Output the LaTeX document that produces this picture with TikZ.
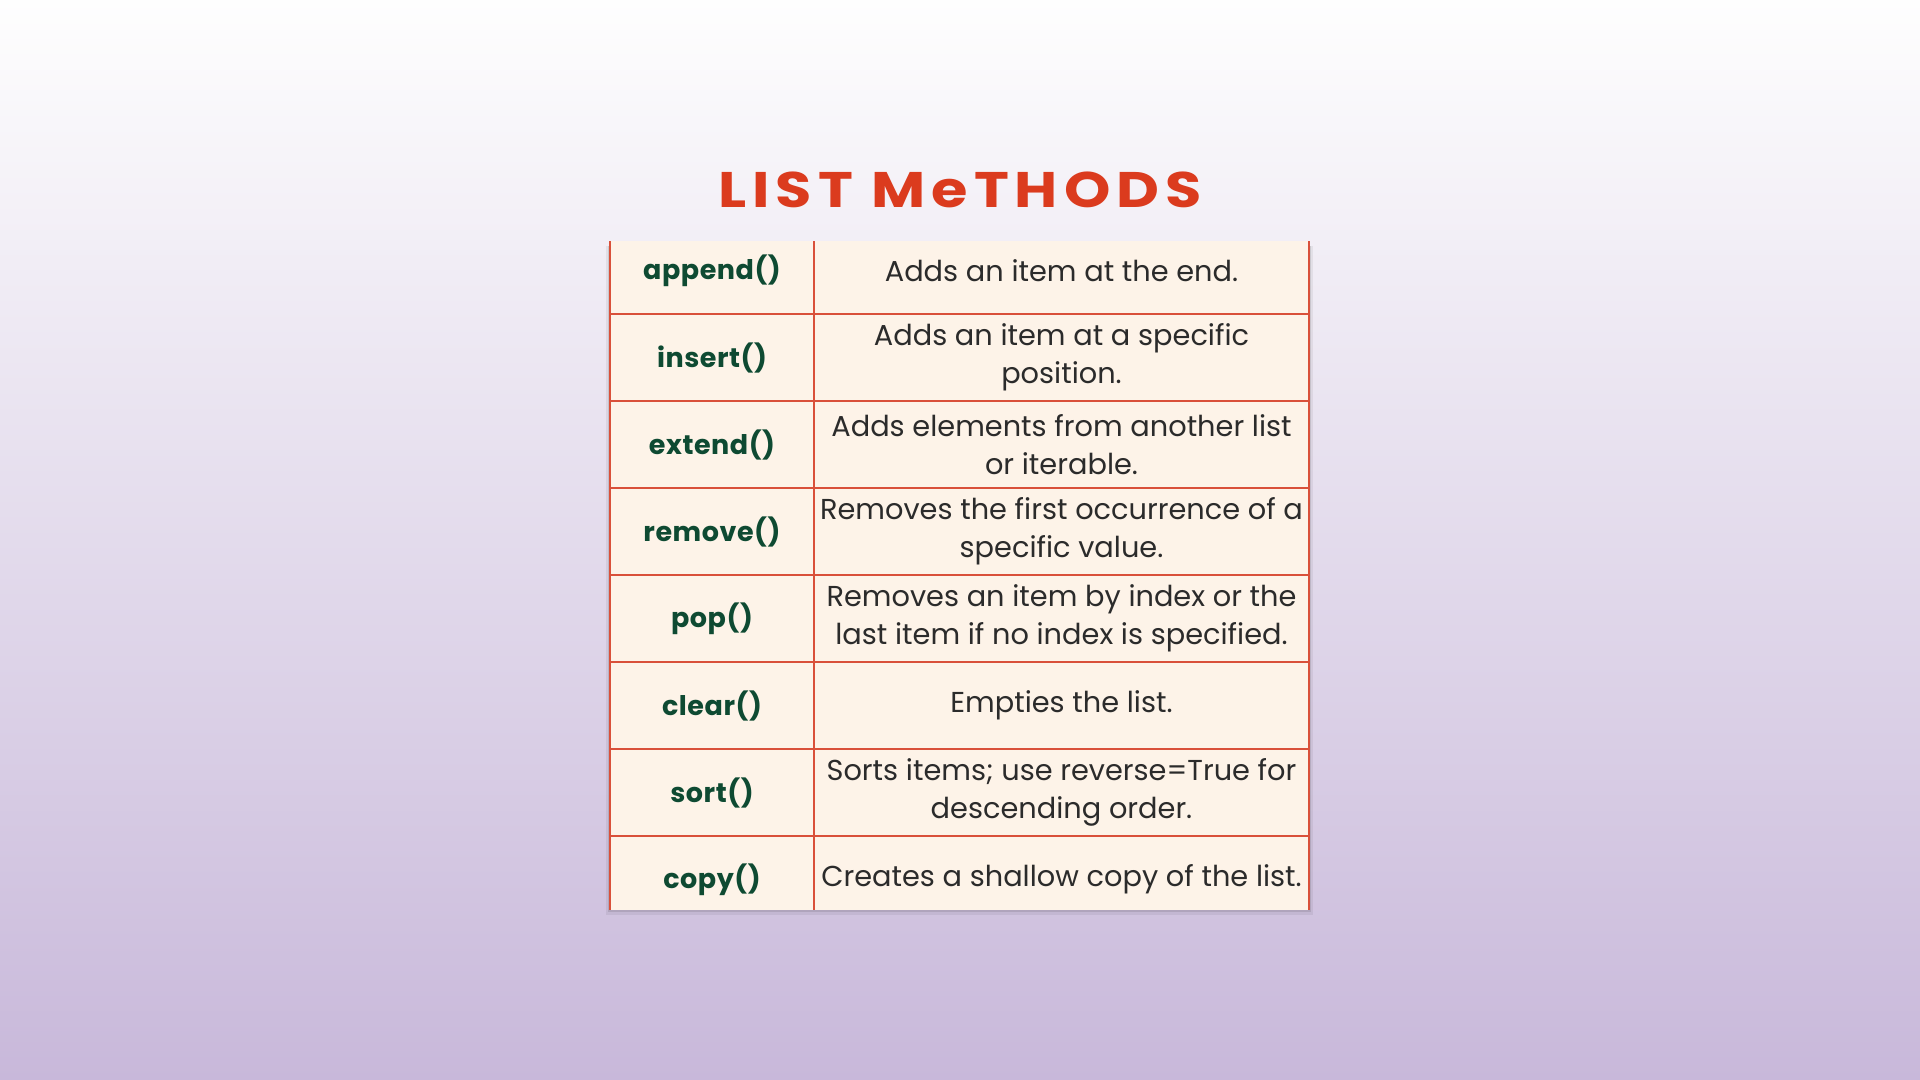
\documentclass[tikz,border=0pt]{standalone}
\usepackage{fontspec}
\setmainfont{Poppins}
\newfontfamily\titlefont[LetterSpace=12,FakeStretch=1.18]{Poppins}
\newfontfamily\methodfont[LetterSpace=2]{Poppins}
\usetikzlibrary{positioning}
\definecolor{titlered}{HTML}{DB3B1E}
\definecolor{methodgreen}{HTML}{0E4A32}
\definecolor{desctext}{HTML}{2B2B2B}
\definecolor{cellcream}{HTML}{FDF3E8}
\definecolor{gridred}{HTML}{D9503A}
\definecolor{bgtop}{HTML}{FEFEFE}
\definecolor{bgbottom}{HTML}{C8B8DA}

\begin{document}
\begin{tikzpicture}[x=0.5pt,y=-0.5pt,node distance=0pt,
  method node/.style={fill=cellcream,inner sep=0pt,outer sep=0pt,minimum width=102pt,minimum height=43.5pt,text=methodgreen,font=\methodfont\bfseries\fontsize{13.5}{19}\selectfont},
  desc node/.style={fill=cellcream,inner sep=0pt,outer sep=0pt,minimum width=247.5pt,minimum height=43.5pt,align=center,text=desctext,font=\fontsize{14.4}{19}\selectfont},
  grid line/.style={draw=gridred,line width=0.8pt}]

  \useasboundingbox (0,0) rectangle (1920,1080);
  \shade[top color=bgtop,bottom color=bgbottom] (0,0) rectangle (1920,1080);

  \node[text=titlered,font=\titlefont\bfseries\fontsize{25}{30}\selectfont] (title) at (960,190) {LIST MeTHODS};

  % shadow under the table
  \fill[black,opacity=0.06] (606,246) rectangle (1313,915);
  \fill[black,opacity=0.10] (608,246) rectangle (1311,912);

  \begin{scope}
    \clip (609,242) rectangle (1311,909);

    \node[method node] (m1) at (712,270.5) {append()};
    \node[desc node] (d1) [right=of m1] {Adds an item at the end.};
    \node[method node] (m2) [below=of m1] {insert()};
    \node[desc node] (d2) [right=of m2] {Adds an item at a specific\\position.};
    \node[method node] (m3) [below=of m2] {extend()};
    \node[desc node] (d3) [right=of m3] {Adds elements from another list\\or iterable.};
    \node[method node] (m4) [below=of m3] {remove()};
    \node[desc node] (d4) [right=of m4] {Removes the first occurrence of a\\specific value.};
    \node[method node] (m5) [below=of m4] {pop()};
    \node[desc node] (d5) [right=of m5] {Removes an item by index or the\\last item if no index is specified.};
    \node[method node] (m6) [below=of m5] {clear()};
    \node[desc node] (d6) [right=of m6] {Empties the list.};
    \node[method node] (m7) [below=of m6] {sort()};
    \node[desc node] (d7) [right=of m7] {Sorts items; use reverse=True for\\descending order.};
    \node[method node] (m8) [below=of m7] {copy()};
    \node[desc node] (d8) [right=of m8] {Creates a shallow copy of the list.};

    % rules between the rows
    \draw[grid line] (m1.south west) -- (d1.south east);
    \draw[grid line] (m2.south west) -- (d2.south east);
    \draw[grid line] (m3.south west) -- (d3.south east);
    \draw[grid line] (m4.south west) -- (d4.south east);
    \draw[grid line] (m5.south west) -- (d5.south east);
    \draw[grid line] (m6.south west) -- (d6.south east);
    \draw[grid line] (m7.south west) -- (d7.south east);

    % columns
    \draw[grid line] (m1.north west) -- (m8.south west);
    \draw[grid line] (m1.north east) -- (m8.south east);
    \draw[grid line] (d1.north east) -- (d8.south east);
  \end{scope}
\end{tikzpicture}
\end{document}
